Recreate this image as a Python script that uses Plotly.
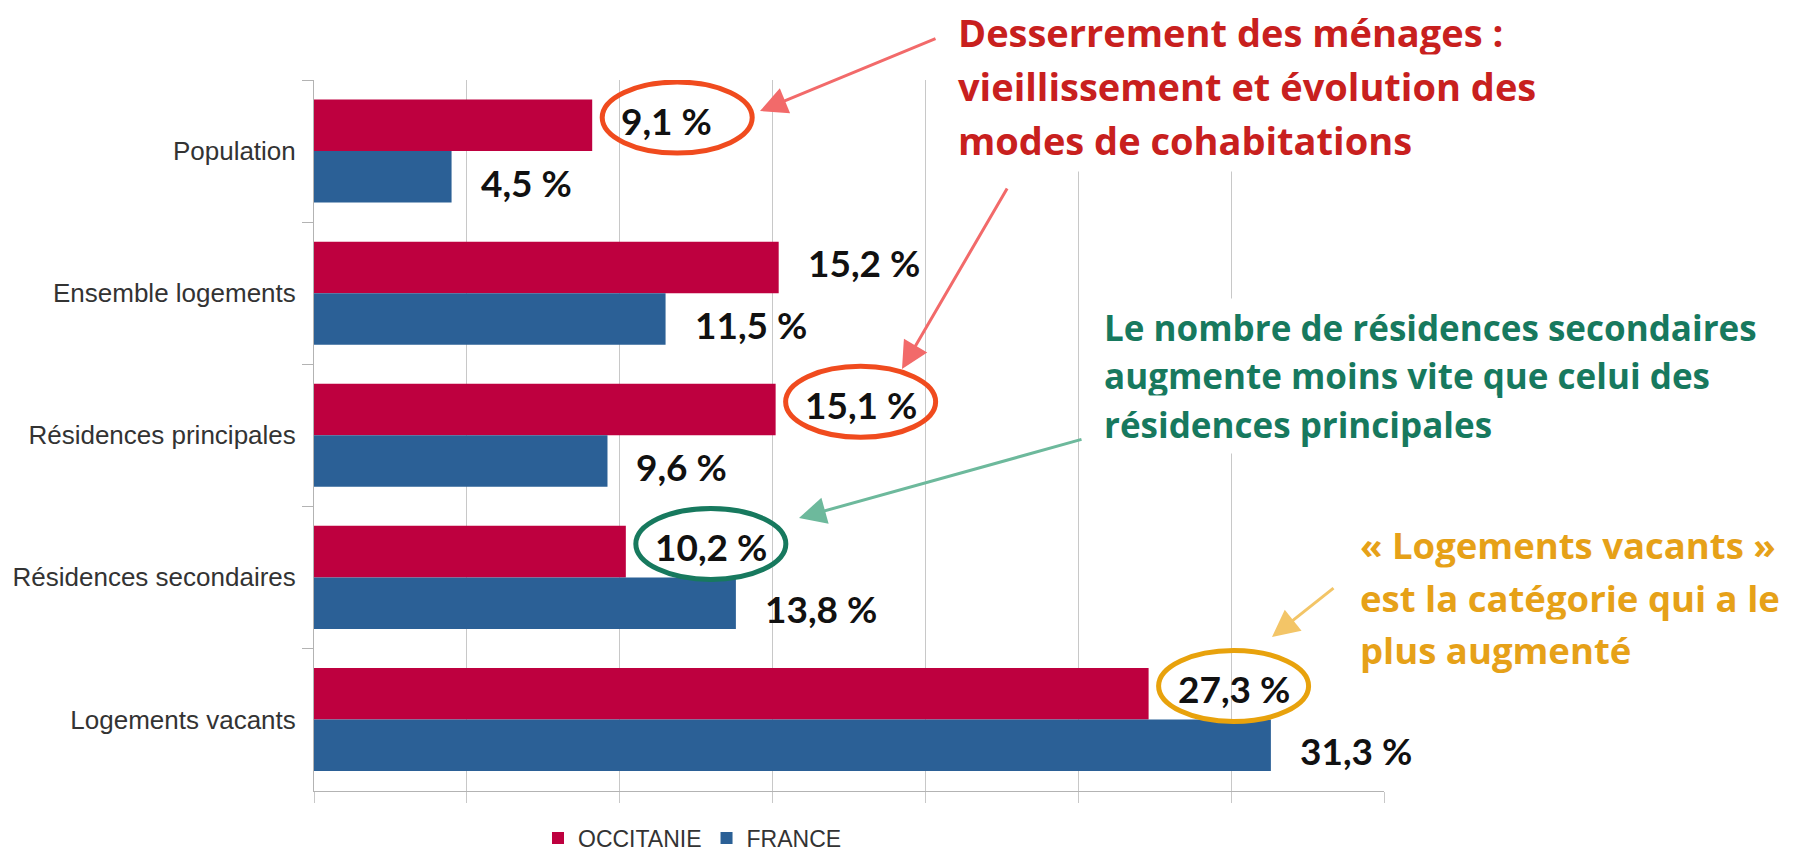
import plotly.graph_objects as go

# ---------------- data ----------------
categories = ["Population", "Ensemble logements", "Résidences principales",
              "Résidences secondaires", "Logements vacants"]
occitanie = [9.1, 15.2, 15.1, 10.2, 27.3]
france = [4.5, 11.5, 9.6, 13.8, 31.3]
series_names = ["OCCITANIE", "FRANCE"]

red_note = ["Desserrement des ménages :", "vieillissement et évolution des",
            "modes de cohabitations"]
green_note = ["Le nombre de résidences secondaires",
              "augmente moins vite que celui des", "résidences principales"]
orange_note = ["« Logements vacants »", "est la catégorie qui a le",
               "plus augmenté"]

# ---------------- layout helpers ----------------
W, H = 1797, 853
L, R, T, B = 314, 413, 80, 62
PW, PH = W - L - R, H - T - B


def px(x):
    return (x - L) / PW


def py(y):
    return (H - B - y) / PH


def fmt(v):
    return f"{v:.1f}".replace(".", ",") + " %"


C_OCC = "#BE003F"
C_FR = "#2B6096"
RED_T, RED_A, RED_E = "#C8201E", "#F26A6A", "#F04B1E"
GRN_T, GRN_A = "#17795E", "#6DB99C"
ORG_T, ORG_A, ORG_E = "#E6A118", "#F3C567", "#E8A20C"

fig = go.Figure()
fig.add_bar(y=categories, x=occitanie, name=series_names[0], orientation="h",
            marker=dict(color=C_OCC, line=dict(width=0)))
fig.add_bar(y=categories, x=france, name=series_names[1], orientation="h",
            marker=dict(color=C_FR, line=dict(width=0)))

# value labels
label_font = dict(family="Lato", size=37, color="#111111", weight=700)
for vals, shift in ((occitanie, 31), (france, -31)):
    for c, v in zip(categories, vals):
        fig.add_annotation(x=v, y=c, xref="x", yref="y", text=fmt(v),
                           showarrow=False, xanchor="left", yanchor="middle",
                           xshift=27, yshift=shift, font=label_font)

# highlight ellipses around OCCITANIE labels
for idx, col in ((0, RED_E), (2, RED_E), (3, GRN_T), (4, ORG_E)):
    fig.add_shape(type="circle", xref="x", yref="y", xsizemode="pixel",
                  ysizemode="pixel", xanchor=occitanie[idx], yanchor=idx,
                  x0=10, x1=160, y0=-2, y1=69,
                  line=dict(color=col, width=5), layer="above")


def add_note(lines, x0, ys, color, size, pad):
    for t, y in zip(lines, ys):
        fig.add_annotation(x=px(x0), y=py(y), xref="paper", yref="paper",
                           text=t, showarrow=False, xanchor="left",
                           yanchor="middle", bgcolor="white", borderpad=pad,
                           font=dict(family="Open Sans", size=size,
                                     color=color, weight=700))


add_note(red_note, 952, [32, 86, 140], RED_T, 38, 5)
add_note(green_note, 1098, [327, 376, 424], GRN_T, 35, 5)
add_note(orange_note, 1354, [545, 598, 650], ORG_T, 36.5, 5)


def add_arrow(tail, head, color):
    fig.add_annotation(x=px(head[0]), y=py(head[1]), xref="paper",
                       yref="paper", ax=tail[0] - head[0], ay=tail[1] - head[1],
                       text="", showarrow=True, arrowhead=2, arrowsize=1.8,
                       arrowwidth=3, arrowcolor=color, standoff=0)


add_arrow((937, 38), (760, 111), RED_A)
add_arrow((1008, 187), (902, 369), RED_A)
add_arrow((1083, 439), (799, 518), GRN_A)
add_arrow((1335, 587), (1272, 637), ORG_A)

fig.update_layout(
    width=W, height=H, autosize=False,
    margin=dict(l=L, r=R, t=T, b=B, pad=0, autoexpand=False),
    plot_bgcolor="white", paper_bgcolor="white",
    barmode="group", bargap=0.275, bargroupgap=0,
    showlegend=True,
    legend=dict(orientation="h", x=px(538), xanchor="left", y=py(838),
                yanchor="middle", traceorder="normal",
                font=dict(family="Liberation Sans", size=23, color="#333333"),
                bgcolor="rgba(0,0,0,0)"),
    xaxis=dict(range=[0, 35], dtick=5, tick0=0, showgrid=True,
               gridcolor="#c8c8c8", gridwidth=1, showticklabels=False,
               ticks="outside", ticklen=11, tickcolor="#c8c8c8",
               showline=True, linecolor="#b3b3b3", linewidth=1,
               zeroline=False, fixedrange=True, automargin=False),
    yaxis=dict(type="category", categoryorder="array",
               categoryarray=categories, autorange="reversed",
               tickson="boundaries", ticks="outside", ticklen=11,
               ticklabelstandoff=12,
               tickcolor="#b3b3b3", showline=True, linecolor="#b3b3b3",
               linewidth=1, showgrid=False, zeroline=False, automargin=False,
               tickfont=dict(family="Liberation Sans", size=26,
                             color="#333333"), fixedrange=True),
)

fig.write_html("out.html",
               config={"displayModeBar": False},
               post_script="document.body.style.margin='0';"
                           "document.body.style.overflow='hidden';")
